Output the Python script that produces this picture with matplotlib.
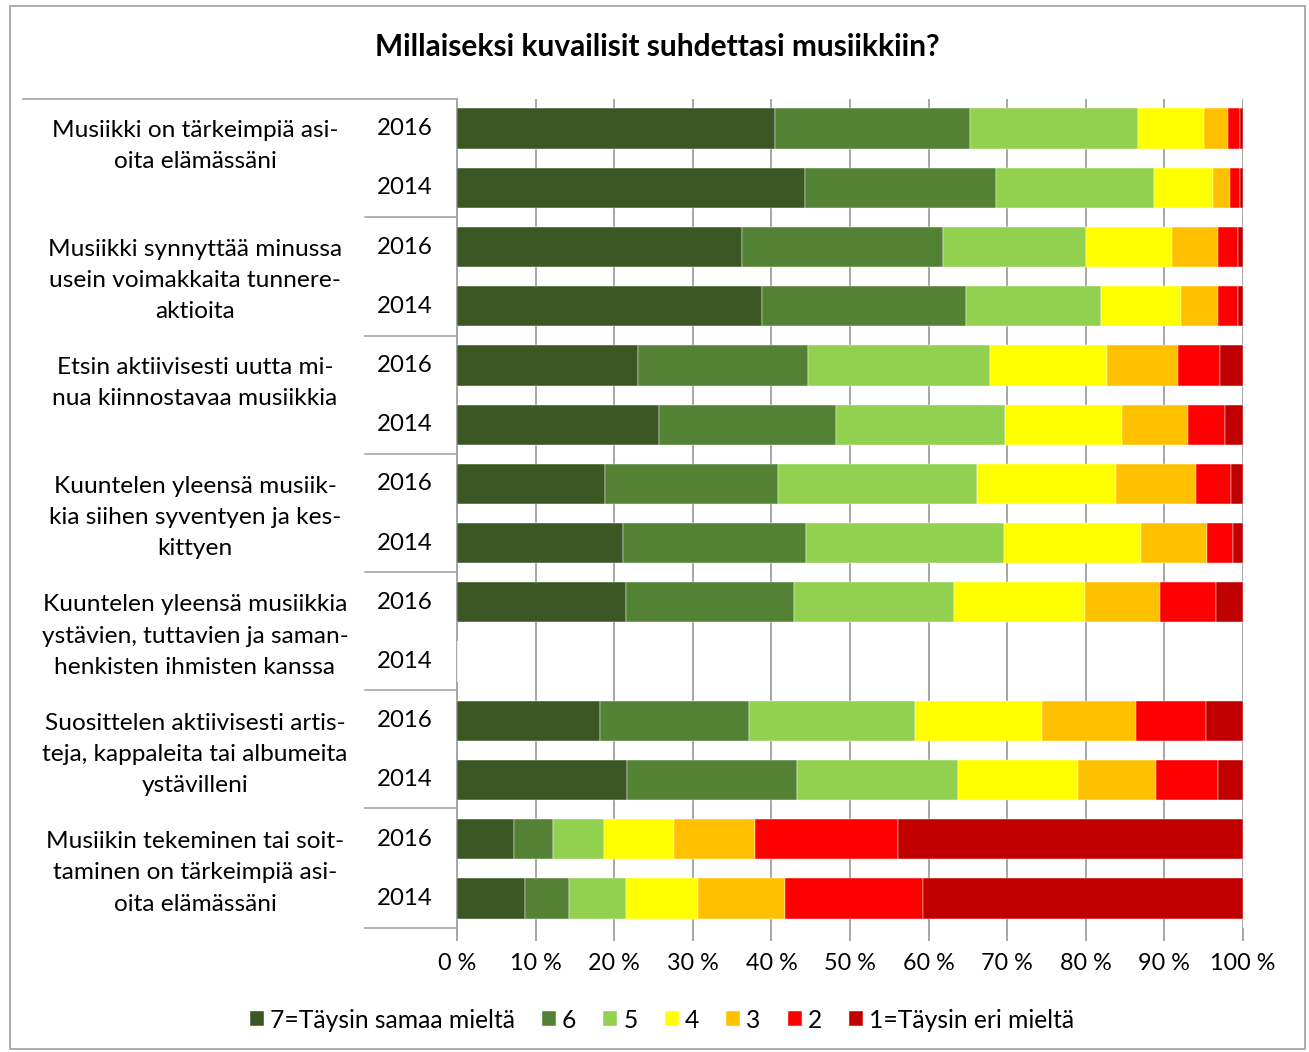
import numpy as np
import matplotlib
matplotlib.use("Agg")
import matplotlib.pyplot as plt
from matplotlib.lines import Line2D
from matplotlib.patches import Rectangle
import matplotlib.transforms as mtransforms

plt.rcParams['font.family'] = ['Lato', 'DejaVu Sans']

title = "Millaiseksi kuvailisit suhdettasi musiikkiin?"
groups = [
    "Musiikki on tärkeimpiä asi-\noita elämässäni",
    "Musiikki synnyttää minussa\nusein voimakkaita tunnere-\naktioita",
    "Etsin aktiivisesti uutta mi-\nnua kiinnostavaa musiikkia",
    "Kuuntelen yleensä musiik-\nkia siihen syventyen ja kes-\nkittyen",
    "Kuuntelen yleensä musiikkia\nystävien, tuttavien ja saman-\nhenkisten ihmisten kanssa",
    "Suosittelen aktiivisesti artis-\nteja, kappaleita tai albumeita\nystävilleni",
    "Musiikin tekeminen tai soit-\ntaminen on tärkeimpiä asi-\noita elämässäni",
]
years = ["2016", "2014"]

levels = ["7=Täysin samaa mieltä", "6", "5", "4", "3", "2", "1=Täysin eri mieltä"]
# one value per row: group1 2016, group1 2014, group2 2016, ...
level_7 = [40.5, 44.3, 36.3, 38.8, 23.0, 25.7, 18.8, 21.1, 21.5, 0, 18.2, 21.6, 7.3, 8.7]
level_6 = [24.8, 24.3, 25.5, 26.0, 21.7, 22.5, 22.0, 23.3, 21.4, 0, 19.0, 21.7, 4.9, 5.5]
level_5 = [21.3, 20.1, 18.2, 17.1, 23.1, 21.5, 25.4, 25.2, 20.3, 0, 21.1, 20.4, 6.5, 7.3]
level_4 = [8.4, 7.5, 11.0, 10.2, 14.9, 14.9, 17.6, 17.4, 16.7, 0, 16.1, 15.3, 8.9, 9.2]
level_3 = [3.1, 2.1, 5.8, 4.7, 9.0, 8.4, 10.2, 8.4, 9.5, 0, 12.0, 9.9, 10.3, 11.0]
level_2 = [1.5, 1.3, 2.6, 2.6, 5.4, 4.7, 4.5, 3.3, 7.2, 0, 8.9, 7.9, 18.2, 17.6]
level_1 = [0.4, 0.4, 0.6, 0.6, 2.9, 2.3, 1.5, 1.3, 3.4, 0, 4.7, 3.2, 43.9, 40.7]

colors = ["#3b5724", "#548235", "#92d050", "#ffff00", "#ffc000", "#ff0000", "#c00000"]

W, H = 1309, 1052
fig = plt.figure(figsize=(W / 100, H / 100), dpi=100)

def fx(px):
    return px / W

def fy(py):
    return 1 - py / H

# plot area in pixels
x0, x1, y0, y1 = 457, 1243, 99, 928
ax = fig.add_axes([fx(x0), fy(y1), fx(x1) - fx(x0), fy(y0) - fy(y1)])

series = [level_7, level_6, level_5, level_4, level_3, level_2, level_1]
nrows = len(level_7)
ypos = np.arange(nrows)
left = np.zeros(nrows)
for vals, c, lab in zip(series, colors, levels):
    vals = np.array(vals, dtype=float)
    ax.barh(ypos, vals, left=left, height=0.68, color=c, label=lab,
            edgecolor="white", linewidth=0.3, zorder=3)
    left += vals

ax.set_xlim(0, 100)
ax.set_ylim(nrows - 0.5, -0.5)
ax.set_xticks(np.arange(0, 101, 10))
ax.set_xticklabels([f"{v} %" for v in range(0, 101, 10)], fontsize=16.8)
ax.set_yticks([])
ax.grid(axis="x", color="#a6a6a6", linewidth=1.4, zorder=0)
ax.tick_params(axis="x", length=9, width=1.4, color="#a6a6a6", pad=9)
for s in ["top", "right", "bottom"]:
    ax.spines[s].set_visible(False)
ax.spines["left"].set_color("#a6a6a6")
ax.spines["left"].set_linewidth(1.4)

# year labels
trans = mtransforms.blended_transform_factory(ax.transAxes, ax.transData)
for i in range(nrows):
    ax.text((405 - x0) / (x1 - x0), i, years[i % 2], transform=trans,
            ha="center", va="center", fontsize=17.3, clip_on=False)

# group labels
for g, txt in enumerate(groups):
    nl = txt.count("\n") + 1
    yc = 2 * g + (0.57 if nl == 3 else 0.3)
    ax.text((195 - x0) / (x1 - x0), yc, txt, transform=trans, ha="center",
            va="center", fontsize=17.6, linespacing=1.6, clip_on=False)

# table lines
line_c = "#a6a6a6"
fig.add_artist(Line2D([fx(23), fx(x0)], [fy(99), fy(99)], color=line_c, lw=1.2))
for py in [217, 336, 454, 572, 690, 808, 928]:
    fig.add_artist(Line2D([fx(365), fx(x0)], [fy(py), fy(py)], color=line_c, lw=1.2))

# outer border
fig.add_artist(Rectangle((fx(10), fy(1049)), fx(1305) - fx(10), fy(6) - fy(1049),
                         fill=False, edgecolor="#a0a0a0", lw=1.2))

fig.text(fx(657), fy(47), title, ha="center", va="center", fontsize=21.5, fontweight="bold")

handles, labels = ax.get_legend_handles_labels()
fig.legend(handles, labels, loc="center", bbox_to_anchor=(fx(662), fy(1020)), ncol=7,
           frameon=False, fontsize=17.7, handlelength=0.57, handleheight=0.57,
           handletextpad=0.25, columnspacing=1.1)

fig.savefig("out.png", dpi=100)
